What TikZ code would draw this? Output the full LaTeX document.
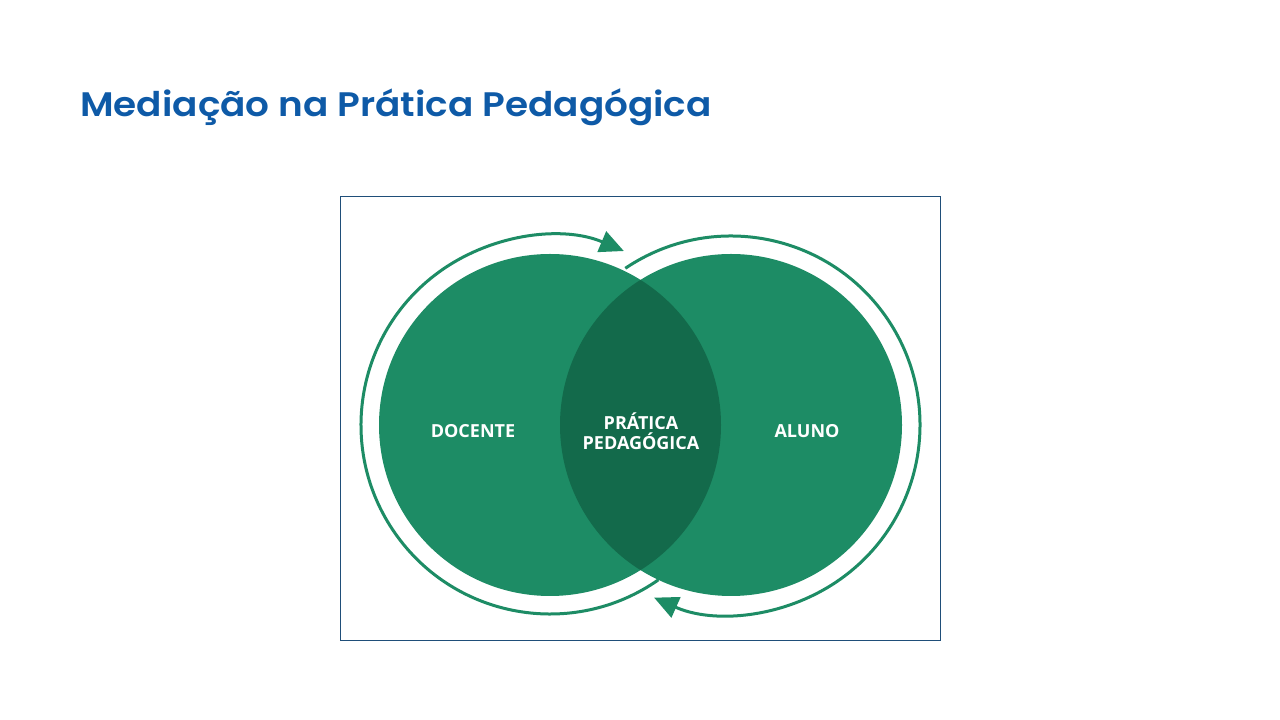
\documentclass[tikz,border=0pt]{standalone}
\usepackage{fontspec}
\usetikzlibrary{arrows.meta}
\newfontfamily\titlefont{Poppins SemiBold}[FakeStretch=1.1]
\newfontfamily\labelfont{Open Sans}
\definecolor{cgreen}{RGB}{29,140,101}
\definecolor{cdark}{RGB}{19,106,75}
\definecolor{ctitle}{RGB}{14,90,167}
\definecolor{cframe}{RGB}{31,78,121}
\tikzset{
  setbox/.style={circle, fill=cgreen, minimum size=342pt, inner sep=0pt},
  ring/.style={draw=cgreen, line width=3pt, -{Triangle[length=24pt,width=22pt]}},
  lbl/.style={text=white, font=\labelfont\bfseries\fontsize{18}{20}\selectfont, align=center, inner sep=0pt}
}
\begin{document}
\begin{tikzpicture}[x=1pt,y=1pt]
\useasboundingbox (0,0) rectangle (1280,720);
\fill[white] (0,0) rectangle (1280,720);
% title
\node[anchor=base west, inner sep=0pt, text=ctitle, font=\titlefont\fontsize{34}{40}\selectfont] (title) at (80,603) {Mediação na Prática Pedagógica};
% frame
\draw[cframe, line width=1pt] (340,523) rectangle (940,79);
% circles
\node[setbox] (L) at (550,295) {};
\node[setbox] (R) at (731,295) {};
\begin{scope}
  \clip (550,295) circle (171);
  \fill[cdark] (731,295) circle (171);
\end{scope}
% rings
\draw[ring] (L.center) ++(305:189) arc[start angle=305, end angle=67, radius=189];
\draw[ring] (R.center) ++(124:189) arc[start angle=124, end angle=-114, radius=189];
% labels
\node[lbl] (doc) at (473,289) {DOCENTE};
\node[lbl] (alu) at (807,289) {ALUNO};
\node[lbl] (pp) at (641,289) {PRÁTICA\\PEDAGÓGICA};
\end{tikzpicture}
\end{document}
